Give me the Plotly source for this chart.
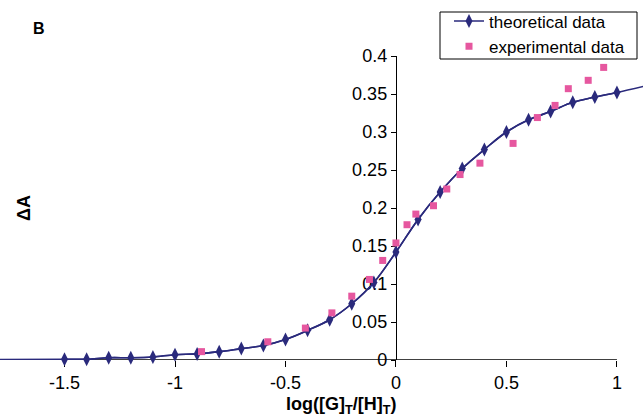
import plotly.graph_objects as go

# ---- data ----
theo_x = [-1.5, -1.4, -1.3, -1.2, -1.1, -1.0, -0.9, -0.8, -0.7, -0.6, -0.5, -0.4, -0.3,
          -0.2, -0.1, 0.0, 0.1, 0.2, 0.3, 0.4, 0.5, 0.6, 0.7, 0.8, 0.9, 1.0]
theo_y = [0.001, 0.001, 0.003, 0.003, 0.004, 0.007, 0.008, 0.011, 0.015, 0.019, 0.027, 0.039, 0.053,
          0.074, 0.102, 0.142, 0.185, 0.221, 0.252, 0.277, 0.300, 0.316, 0.327, 0.339, 0.346, 0.352]
# fitted curve continues beyond the marked points at both ends
curve_x = [-1.8] + theo_x + [1.12]
curve_y = [0.0005] + theo_y + [0.360]

exp_x = [-0.88, -0.58, -0.41, -0.29, -0.20, -0.12, -0.06, 0.0, 0.05, 0.09, 0.17, 0.23, 0.29,
         0.38, 0.53, 0.64, 0.72, 0.78, 0.87, 0.94]
exp_y = [0.011, 0.024, 0.042, 0.062, 0.084, 0.106, 0.131, 0.154, 0.178, 0.192, 0.203, 0.225, 0.244,
         0.259, 0.285, 0.319, 0.335, 0.357, 0.368, 0.385]

x_ticks = [-1.5, -1.0, -0.5, 0.0, 0.5, 1.0]
x_ticktext = ["-1.5", "-1", "-0.5", "0", "0.5", "1"]
y_ticks = [0, 0.05, 0.1, 0.15, 0.2, 0.25, 0.3, 0.35, 0.4]
y_ticktext = ["0", "0.05", "0.1", "0.15", "0.2", "0.25", "0.3", "0.35", "0.4"]

W, H = 643, 417
X_MIN, X_MAX = -1.792, 1.118
Y_MIN, Y_MAX = 0.0, 0.4
M_T, M_B = 56, 57
NAVY = "#2a2a7c"
PINK = "#e6579f"
FONT = "Liberation Sans, Arial, sans-serif"
FS = 18

fig = go.Figure()
fig.add_trace(go.Scatter(x=curve_x, y=curve_y, mode="lines", line=dict(color=NAVY, width=1.6, shape="spline"),
                         showlegend=False, hoverinfo="skip"))
fig.add_trace(go.Scatter(x=theo_x, y=theo_y, mode="lines+markers", name="theoretical data",
                         line=dict(color=NAVY, width=1.6, shape="spline"),
                         marker=dict(symbol="diamond-tall", size=10, color=NAVY), cliponaxis=False))
fig.add_trace(go.Scatter(x=exp_x, y=exp_y, mode="markers", name="experimental data",
                         marker=dict(symbol="square", size=7, color=PINK), cliponaxis=False))

plot_h = H - M_T - M_B
ypos = (0 - X_MIN) / (X_MAX - X_MIN)


def py(pixel_y):
    """paper y for a pixel row measured from the top of the page"""
    return (H - M_B - pixel_y) / plot_h


fig.update_layout(
    width=W, height=H,
    margin=dict(l=0, r=0, t=M_T, b=M_B, pad=0),
    paper_bgcolor="white", plot_bgcolor="white",
    font=dict(family=FONT, size=FS, color="black"),
    xaxis=dict(range=[X_MIN, X_MAX], showgrid=False, zeroline=False, showline=False,
               tickvals=x_ticks, ticktext=x_ticktext, ticks="outside", ticklen=6,
               tickwidth=1.2, tickcolor="black", tickfont=dict(size=FS), layer="below traces"),
    yaxis=dict(range=[Y_MIN, Y_MAX], showgrid=False, zeroline=False, showline=True,
               linecolor="black", linewidth=1.4, anchor="free", position=ypos,
               tickvals=y_ticks, ticktext=y_ticktext, ticks="outside", ticklen=5,
               tickwidth=1.2, tickcolor="black", tickfont=dict(size=FS), layer="below traces"),
    legend=dict(x=449 / W, xanchor="left", y=py(3.5), yanchor="top",
                bgcolor="rgba(0,0,0,0)", borderwidth=0,
                font=dict(size=17), tracegroupgap=0, itemwidth=30),
    shapes=[
        dict(type="line", xref="x", yref="y", x0=X_MIN, x1=max(x_ticks), y0=0, y1=0,
             line=dict(color="black", width=1.4), layer="below"),
        dict(type="rect", xref="paper", yref="paper", x0=440 / W, x1=637 / W, y0=py(59), y1=py(12),
             fillcolor="white", line=dict(color="black", width=1), layer="below"),
    ],
    annotations=[
        dict(text="<b>B</b>", xref="paper", yref="paper", x=39 / W, y=py(28),
             showarrow=False, font=dict(size=16), xanchor="center", yanchor="middle"),
        dict(text="<b>ΔA</b>", xref="paper", yref="paper", x=24 / W, y=0.5, textangle=-90,
             showarrow=False, font=dict(size=FS), xanchor="center", yanchor="middle"),
        dict(text="<b>log([G]<sub>T</sub>/[H]<sub>T</sub>)</b>", xref="paper", yref="paper",
             x=341 / W, y=py(405), showarrow=False, font=dict(size=FS),
             xanchor="center", yanchor="middle"),
    ],
)

fig.write_html("out.html")
